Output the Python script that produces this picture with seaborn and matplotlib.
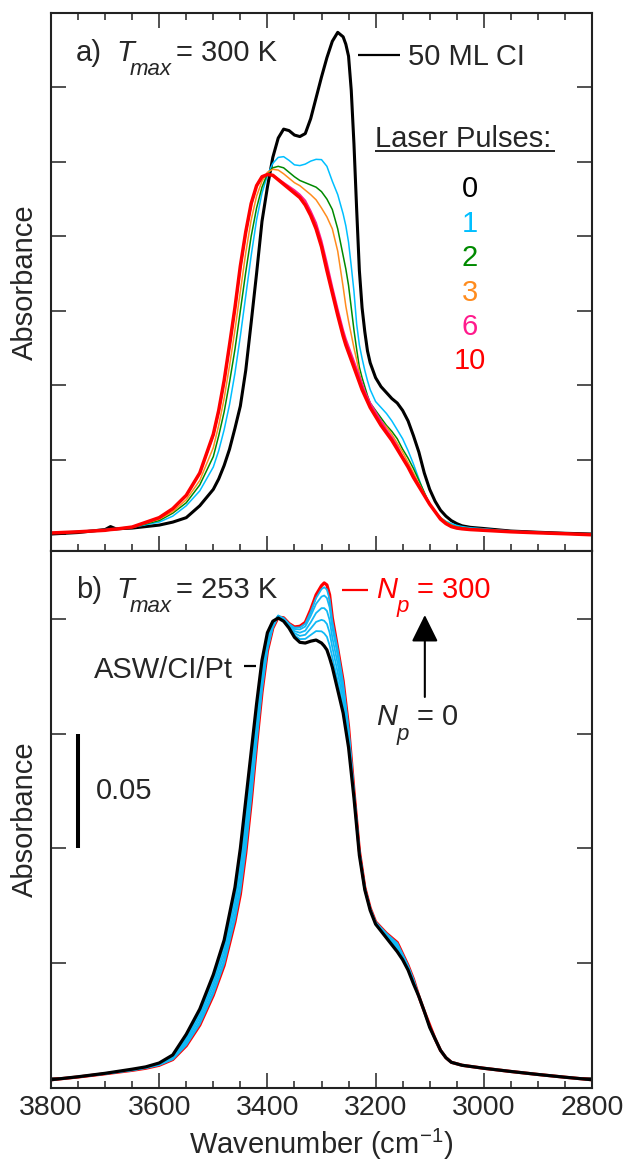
import matplotlib
matplotlib.use("Agg")
import matplotlib.pyplot as plt
from matplotlib.ticker import MultipleLocator
from matplotlib.lines import Line2D
import pandas as pd
import seaborn as sns

# ---------------- data: panel a (T_max = 300 K, 50 ML CI) ----------------
wn_a = [3800, 3750, 3700, 3690, 3680, 3650, 3600, 3575, 3550, 3525,
        3500, 3490, 3480, 3470, 3460, 3450, 3440, 3430, 3420, 3410,
        3400, 3390, 3380, 3370, 3360, 3350, 3340, 3330, 3320, 3310,
        3300, 3290, 3280, 3270, 3260, 3255, 3250, 3245, 3240, 3235,
        3230, 3225, 3220, 3215, 3210, 3200, 3190, 3180, 3170, 3160,
        3150, 3140, 3130, 3120, 3110, 3100, 3090, 3080, 3070, 3060,
        3050, 3040, 3025, 3000, 2950, 2900, 2850, 2800]

a_pulses_0 = [0.000, 0.001, 0.003, 0.005, 0.0035, 0.004, 0.006, 0.008, 0.011, 0.019,
              0.030, 0.037, 0.046, 0.057, 0.071, 0.086, 0.110, 0.142, 0.175, 0.210,
              0.233, 0.253, 0.266, 0.272, 0.271, 0.268, 0.267, 0.269, 0.279, 0.293,
              0.307, 0.320, 0.331, 0.337, 0.334, 0.329, 0.321, 0.298, 0.262, 0.218,
              0.177, 0.152, 0.136, 0.123, 0.115, 0.105, 0.099, 0.095, 0.091, 0.088,
              0.083, 0.076, 0.066, 0.055, 0.041, 0.030, 0.022, 0.016, 0.012, 0.009,
              0.007, 0.0055, 0.0045, 0.0037, 0.002, 0.0012, 0.0005, 0.000]

a_pulses_1 = [0.001, 0.0018, 0.003, 0.0035, 0.0037, 0.0045, 0.008, 0.012, 0.019, 0.029,
              0.045, 0.056, 0.070, 0.087, 0.108, 0.133, 0.160, 0.187, 0.211, 0.229,
              0.241, 0.249, 0.253, 0.2535, 0.251, 0.248, 0.2475, 0.2485, 0.2505, 0.2517,
              0.2515, 0.247, 0.237, 0.228, 0.215, 0.207, 0.196, 0.180, 0.163, 0.141,
              0.127, 0.118, 0.110, 0.103, 0.097, 0.089, 0.085, 0.081, 0.076, 0.070,
              0.064, 0.056, 0.047, 0.037, 0.027, 0.020, 0.015, 0.011, 0.0085, 0.007,
              0.0058, 0.005, 0.0042, 0.0035, 0.002, 0.0012, 0.0005, -0.0002]

a_pulses_2 = [0.0008, 0.0016, 0.0027, 0.0032, 0.0035, 0.0045, 0.009, 0.014, 0.021, 0.033,
              0.052, 0.066, 0.082, 0.102, 0.124, 0.150, 0.176, 0.200, 0.219, 0.233,
              0.242, 0.246, 0.247, 0.246, 0.243, 0.240, 0.2375, 0.236, 0.2345, 0.233,
              0.230, 0.225, 0.218, 0.205, 0.187, 0.178, 0.167, 0.152, 0.137, 0.124,
              0.112, 0.105, 0.099, 0.093, 0.088, 0.083, 0.078, 0.073, 0.069, 0.064,
              0.057, 0.051, 0.044, 0.036, 0.028, 0.020, 0.015, 0.011, 0.008, 0.006,
              0.0048, 0.0042, 0.0035, 0.003, 0.0018, 0.001, 0.0004, -0.0003]

a_pulses_3 = [0.0007, 0.0015, 0.0025, 0.003, 0.0033, 0.0045, 0.010, 0.015, 0.023, 0.036,
              0.058, 0.073, 0.091, 0.113, 0.137, 0.163, 0.189, 0.211, 0.227, 0.237,
              0.243, 0.245, 0.2445, 0.242, 0.239, 0.236, 0.234, 0.231, 0.228, 0.2245,
              0.219, 0.213, 0.205, 0.190, 0.166, 0.153, 0.143, 0.134, 0.125, 0.117,
              0.108, 0.101, 0.095, 0.089, 0.085, 0.080, 0.076, 0.072, 0.067, 0.061,
              0.055, 0.048, 0.041, 0.034, 0.027, 0.020, 0.015, 0.011, 0.008, 0.006,
              0.0045, 0.004, 0.0033, 0.0028, 0.0017, 0.0009, 0.0003, -0.0004]

a_pulses_6 = [0.0007, 0.0015, 0.0025, 0.003, 0.0033, 0.0047, 0.011, 0.017, 0.026, 0.041,
              0.066, 0.082, 0.102, 0.126, 0.151, 0.179, 0.202, 0.221, 0.234, 0.240,
              0.2415, 0.241, 0.2385, 0.236, 0.2335, 0.231, 0.228, 0.224, 0.217, 0.209,
              0.197, 0.182, 0.166, 0.151, 0.137, 0.131, 0.126, 0.121, 0.116, 0.111,
              0.106, 0.101, 0.096, 0.092, 0.088, 0.082, 0.076, 0.070, 0.065, 0.059,
              0.052, 0.046, 0.039, 0.033, 0.026, 0.020, 0.015, 0.010, 0.007, 0.005,
              0.004, 0.0035, 0.003, 0.0025, 0.0015, 0.0008, 0.0002, -0.0005]

a_pulses_10 = [0.0007, 0.0015, 0.0025, 0.003, 0.0033, 0.0047, 0.011, 0.017, 0.026, 0.041,
               0.067, 0.083, 0.103, 0.127, 0.152, 0.180, 0.203, 0.222, 0.234, 0.240,
               0.2415, 0.241, 0.238, 0.235, 0.232, 0.229, 0.226, 0.221, 0.214, 0.205,
               0.193, 0.177, 0.162, 0.147, 0.133, 0.127, 0.122, 0.117, 0.112, 0.107,
               0.102, 0.097, 0.093, 0.089, 0.085, 0.079, 0.073, 0.068, 0.063, 0.057,
               0.051, 0.045, 0.038, 0.032, 0.026, 0.020, 0.015, 0.010, 0.007, 0.005,
               0.004, 0.0035, 0.003, 0.0025, 0.0015, 0.0008, 0.0002, -0.0005]

pulse_labels = ["0", "1", "2", "3", "6", "10"]
pulse_colors = ["#000000", "#00BFFF", "#008A00", "#FF8C1E", "#FF1A8C", "#FF0000"]
pulse_widths = [2.2, 1.1, 1.1, 1.1, 1.4, 2.5]
a_series = [a_pulses_0, a_pulses_1, a_pulses_2, a_pulses_3, a_pulses_6, a_pulses_10]

# ---------------- data: panel b (T_max = 253 K, ASW/CI/Pt) ----------------
wn_b = [3800, 3750, 3700, 3650, 3625, 3600, 3575, 3550, 3525, 3500, 3480,
        3460, 3450, 3440, 3430, 3420, 3410, 3400, 3390, 3380, 3370,
        3360, 3350, 3340, 3330, 3320, 3310, 3300, 3295, 3290, 3285, 3280, 3270,
        3260, 3250, 3240, 3230, 3220, 3210, 3200, 3190, 3180, 3170,
        3160, 3150, 3140, 3130, 3120, 3110, 3100, 3090, 3080, 3070,
        3060, 3040, 3000, 2950, 2900, 2850, 2800]

b_np_0 = [-0.0008, 0.0005, 0.002, 0.0038, 0.0048, 0.0065, 0.010, 0.019, 0.030, 0.045, 0.060,
          0.083, 0.100, 0.121, 0.142, 0.163, 0.182, 0.194, 0.199, 0.2004, 0.199,
          0.196, 0.192, 0.1898, 0.1895, 0.1903, 0.1908, 0.1895, 0.1882, 0.1865, 0.1830, 0.179, 0.169,
          0.159, 0.144, 0.122, 0.097, 0.082, 0.073, 0.067, 0.064, 0.061, 0.058,
          0.055, 0.0515, 0.047, 0.041, 0.0355, 0.029, 0.022, 0.017, 0.012, 0.0088,
          0.0068, 0.0055, 0.0042, 0.0028, 0.0015, 0.0003, -0.0008]

b_mid_1 = [-0.0008, 0.0005, 0.002, 0.0037, 0.0047, 0.0063, 0.0096, 0.018, 0.0286, 0.0432, 0.0578,
           0.080, 0.096, 0.1164, 0.1376, 0.1594, 0.1792, 0.1924, 0.1984, 0.2012, 0.1993,
           0.1964, 0.1929, 0.1912, 0.1913, 0.1930, 0.1947, 0.1946, 0.1937, 0.1922, 0.1885, 0.1833, 0.1728,
           0.1618, 0.1458, 0.1226, 0.0974, 0.0822, 0.0732, 0.0672, 0.0643, 0.0614, 0.0586,
           0.0558, 0.0520, 0.0474, 0.0414, 0.0355, 0.029, 0.022, 0.017, 0.012, 0.0088,
           0.0068, 0.0055, 0.0042, 0.0028, 0.0015, 0.0003, -0.0008]

b_mid_2 = [-0.0008, 0.0005, 0.0019, 0.0036, 0.0046, 0.0061, 0.0092, 0.017, 0.0272, 0.0414, 0.0556,
           0.077, 0.092, 0.1118, 0.1332, 0.1558, 0.1764, 0.1908, 0.1978, 0.2014, 0.1996,
           0.1968, 0.1938, 0.1926, 0.1931, 0.1958, 0.1987, 0.1996, 0.1992, 0.1978, 0.1940, 0.1876, 0.1766,
           0.1646, 0.1476, 0.1232, 0.0978, 0.0824, 0.0734, 0.0674, 0.0646, 0.0618, 0.0592,
           0.0566, 0.0525, 0.0478, 0.0418, 0.0355, 0.029, 0.022, 0.017, 0.012, 0.0088,
           0.0068, 0.0055, 0.0042, 0.0028, 0.0015, 0.0003, -0.0008]

b_mid_3 = [-0.0008, 0.0005, 0.0019, 0.0035, 0.0045, 0.0059, 0.0088, 0.016, 0.0258, 0.0396, 0.0534,
           0.074, 0.088, 0.1072, 0.1288, 0.1522, 0.1736, 0.1892, 0.1972, 0.2015, 0.1999,
           0.1972, 0.1947, 0.1940, 0.1949, 0.1985, 0.2026, 0.2047, 0.2047, 0.2035, 0.1995, 0.1919, 0.1804,
           0.1674, 0.1494, 0.1238, 0.0982, 0.0826, 0.0736, 0.0676, 0.0649, 0.0622, 0.0598,
           0.0574, 0.0530, 0.0482, 0.0422, 0.0355, 0.029, 0.022, 0.017, 0.012, 0.0088,
           0.0068, 0.0055, 0.0042, 0.0028, 0.0015, 0.0003, -0.0008]

b_mid_4 = [-0.0008, 0.0005, 0.0018, 0.0034, 0.0044, 0.0057, 0.0084, 0.015, 0.0244, 0.0378, 0.0512,
           0.071, 0.084, 0.1026, 0.1244, 0.1486, 0.1708, 0.1876, 0.1966, 0.2014, 0.2002,
           0.1976, 0.1956, 0.1954, 0.1967, 0.2013, 0.2066, 0.2097, 0.2102, 0.2091, 0.2050, 0.1962, 0.1842,
           0.1702, 0.1512, 0.1244, 0.0986, 0.0828, 0.0738, 0.0678, 0.0652, 0.0626, 0.0604,
           0.0582, 0.0535, 0.0486, 0.0426, 0.0355, 0.029, 0.022, 0.017, 0.012, 0.0088,
           0.0068, 0.0055, 0.0042, 0.0028, 0.0015, 0.0003, -0.0008]

b_mid_5 = [-0.0008, 0.0005, 0.0018, 0.0033, 0.0043, 0.0056, 0.0081, 0.0143, 0.0235, 0.0366, 0.0498,
           0.069, 0.0814, 0.0996, 0.1215, 0.1463, 0.1690, 0.1866, 0.1962, 0.2012, 0.2004,
           0.1979, 0.1962, 0.1963, 0.1979, 0.2030, 0.2091, 0.2130, 0.2138, 0.2128, 0.2086, 0.1990, 0.1867,
           0.1720, 0.1524, 0.1248, 0.0989, 0.0829, 0.0739, 0.0679, 0.0654, 0.0629, 0.0608,
           0.0587, 0.0538, 0.0489, 0.0429, 0.0355, 0.029, 0.022, 0.017, 0.012, 0.0088,
           0.0068, 0.0055, 0.0042, 0.0028, 0.0015, 0.0003, -0.0008]

b_np_300 = [-0.0008, 0.0004, 0.0018, 0.0033, 0.0042, 0.0055, 0.008, 0.014, 0.023, 0.036, 0.049,
            0.068, 0.080, 0.098, 0.120, 0.145, 0.168, 0.186, 0.196, 0.2008, 0.2005,
            0.198, 0.1965, 0.1968, 0.1985, 0.204, 0.2105, 0.2145, 0.2157, 0.2148, 0.2105, 0.2005, 0.187,
            0.173, 0.153, 0.125, 0.099, 0.083, 0.074, 0.068, 0.0655, 0.063, 0.061,
            0.059, 0.054, 0.049, 0.043, 0.0355, 0.029, 0.023, 0.017, 0.012, 0.0088,
            0.0068, 0.0055, 0.0042, 0.0028, 0.0015, 0.0003, -0.0008]

# draw order: N_p = 300 first, intermediate spectra, N_p = 0 on top
b_series = [b_np_300, b_mid_1, b_mid_2, b_mid_3, b_mid_4, b_mid_5, b_np_0]
b_names = ["300", "m1", "m2", "m3", "m4", "m5", "0"]
b_colors = ["#FF0000"] + ["#10B8F5"] * 5 + ["#000000"]
b_widths = [2.3] + [1.3] * 5 + [2.3]

W, H = 624, 1163
TXT = 21

sns.set_theme(style="white")
plt.rcParams["font.family"] = ["Liberation Sans", "DejaVu Sans"]
plt.rcParams.update({
    "mathtext.fontset": "custom",
    "mathtext.rm": "Liberation Sans",
    "mathtext.it": "Liberation Sans:italic",
    "mathtext.default": "regular",
    "axes.edgecolor": "#222222",
    "axes.linewidth": 1.5,
})

fig = plt.figure(figsize=(W / 100, H / 100), dpi=100)
x0, x1 = 51 / W, 592 / W
ax_a = fig.add_axes([x0, 1 - 551 / H, x1 - x0, (551 - 13) / H])
ax_b = fig.add_axes([x0, 1 - 1088 / H, x1 - x0, (1088 - 551) / H])

df_a = pd.concat([pd.DataFrame({"wn": wn_a, "absorbance": s, "pulses": lab})
                  for s, lab in zip(a_series, pulse_labels)], ignore_index=True)
for lab, col, lw in zip(pulse_labels, pulse_colors, pulse_widths):
    sns.lineplot(data=df_a[df_a["pulses"] == lab], x="wn", y="absorbance",
                 color=col, linewidth=lw, sort=False, estimator=None, ax=ax_a)

df_b = pd.concat([pd.DataFrame({"wn": wn_b, "absorbance": s, "spectrum": n})
                  for s, n in zip(b_series, b_names)], ignore_index=True)
for n, col, lw in zip(b_names, b_colors, b_widths):
    sns.lineplot(data=df_b[df_b["spectrum"] == n], x="wn", y="absorbance",
                 color=col, linewidth=lw, sort=False, estimator=None, ax=ax_b)

for ax in (ax_a, ax_b):
    ax.set_xlim(3800, 2800)
    ax.xaxis.set_major_locator(MultipleLocator(200))
    ax.xaxis.set_minor_locator(MultipleLocator(50))
    ax.yaxis.set_major_locator(MultipleLocator(0.05))
    ax.tick_params(axis="both", which="major", direction="in", length=10.8,
                   width=1.1, color="#222222", labelsize=20.5, pad=5)
    ax.tick_params(axis="x", which="minor", direction="in", length=5, width=1.1,
                   color="#222222")
    ax.tick_params(axis="y", left=True, right=True, labelleft=False)
    for sp in ax.spines.values():
        sp.set_visible(True)
    ax.set_ylabel("Absorbance", fontsize=TXT)
    ax.yaxis.set_label_coords(-0.0342, 0.5)
    ax.yaxis.label.set_verticalalignment("baseline")

ax_a.set_ylim(-0.0114, 0.35)
ax_b.set_ylim(-0.0044, 0.2296)
ax_a.tick_params(axis="x", which="both", top=True, bottom=True, labelbottom=False)
ax_a.set_xlabel("")
ax_b.tick_params(axis="x", which="both", top=False, bottom=True, labelbottom=True)
ax_b.set_xlabel("Wavenumber (cm$^{-1}$)", fontsize=TXT)
ax_b.xaxis.set_label_coords(0.5, -0.1229)
ax_b.xaxis.label.set_verticalalignment("baseline")


def ftext(x, y, s, **kw):
    kw.setdefault("fontsize", TXT)
    kw.setdefault("va", "baseline")
    fig.text(x / W, 1 - y / H, s, **kw)


def fline(xa, xb, ya, yb, **kw):
    fig.add_artist(Line2D([xa / W, xb / W], [1 - ya / H, 1 - yb / H],
                          transform=fig.transFigure, solid_capstyle="butt", **kw))


# panel a annotations
ftext(76, 61, "a)")
ftext(116, 61, "T", style="italic")
ftext(130, 75, "max", style="italic", fontsize=16)
ftext(176, 61, "= 300 K")
fline(358, 400, 55, 55, color="black", linewidth=1.6)
ftext(408, 65, "50 ML CI")
ftext(375, 147, "Laser Pulses:")
fline(375, 555, 151, 151, color="black", linewidth=1.2)
for lab, col, yb in zip(pulse_labels, pulse_colors, [197, 232, 266, 301, 335, 369]):
    ftext(470, yb, lab, color=col, ha="center")

# panel b annotations
ftext(76, 598, "b)")
ftext(116, 598, "T", style="italic")
ftext(130, 612, "max", style="italic", fontsize=16)
ftext(176, 598, "= 253 K")
fline(342, 368, 590, 590, color="#FF0000", linewidth=1.6)
ftext(376, 598, "N", style="italic", color="#FF0000")
ftext(397, 612, "p", style="italic", fontsize=16, color="#FF0000")
ftext(417, 598, "= 300", color="#FF0000")
ftext(376, 725, "N", style="italic")
ftext(397, 740, "p", style="italic", fontsize=16)
ftext(417, 725, "= 0")
ftext(94, 678, "ASW/CI/Pt")
fline(244, 256, 666, 666, color="black", linewidth=1.6)
ftext(96, 799, "0.05")

# 0.05 absorbance scale bar and growth arrow, in data units of panel b
ax_b.plot([3750, 3750], [0.10, 0.15], color="black", linewidth=2.9,
          solid_capstyle="butt")
ax_b.annotate("", xy=(3109, 0.2017), xytext=(3109, 0.166),
              arrowprops=dict(arrowstyle="-|>,head_length=0.83,head_width=0.41",
                              mutation_scale=20, color="black", lw=1.5,
                              shrinkA=0, shrinkB=0))

fig.savefig("out.png", dpi=100)
